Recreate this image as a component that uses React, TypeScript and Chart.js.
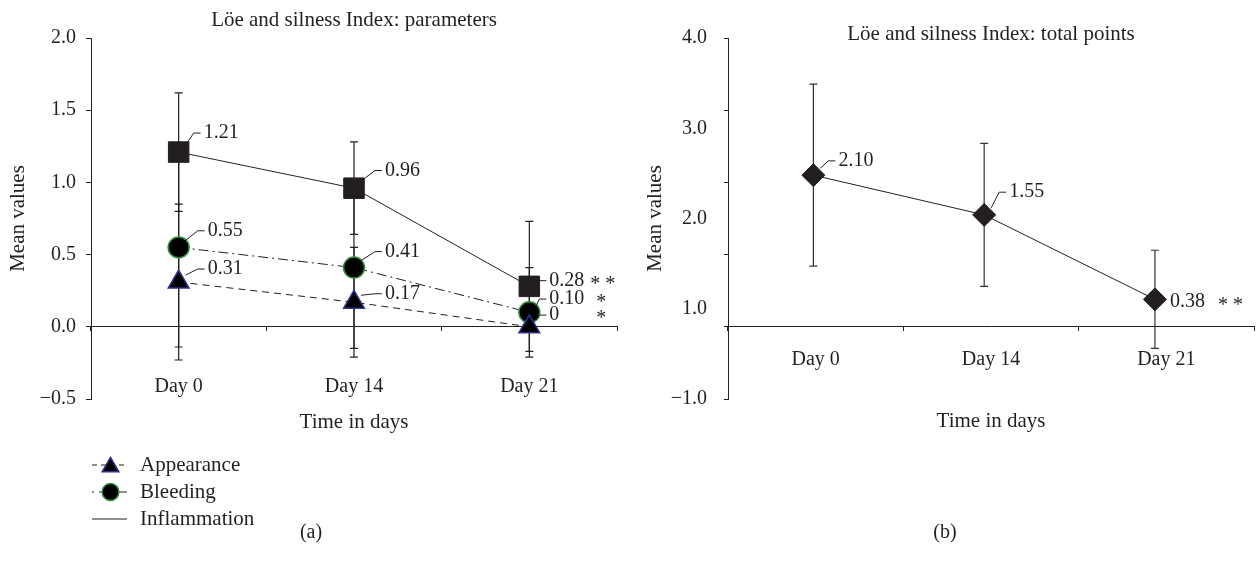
import React, { useEffect, useRef } from 'react';
import { Chart, registerables } from 'chart.js';

Chart.register(...registerables);

// ---------- data ----------
const days = ['Day 0', 'Day 14', 'Day 21'];

const appearance = [0.31, 0.17, 0];
const appearanceErr = [0.54, 0.38, 0];
const bleeding = [0.55, 0.41, 0.1];
const bleedingErr = [0.69, 0.56, 0.31];
const inflammation = [1.21, 0.96, 0.28];
const inflammationErr = [0.41, 0.32, 0.45];
const leftTicks = [-0.5, 0, 0.5, 1.0, 1.5, 2.0];
const day21Marks = ['*', '*', '* *']; // appearance, bleeding, inflammation

const totalPoints = [2.1, 1.55, 0.38];
const totalErr = [1.26, 0.99, 0.68];
const totalTickMarks = [-1, 0, 1, 2, 3, 4];
const totalTickValues = [-1, 0.25, 1.5, 2.75, 4];
const totalTickLabels = ['\u22121.0', '1.0', '2.0', '3.0', '4.0'];
const totalMark = '* *';

// ---------- style ----------
const FONT = "'Liberation Serif', 'Times New Roman', serif";
const INK = '#231f20';
const FS = 20;
const FT = 21;

const fmtVal = (v: number) => (v === 0 ? '0' : v.toFixed(2));
const fmtTick = (v: number) => (v < 0 ? '\u2212' : '') + Math.abs(v).toFixed(1);

function drawMarker(ctx: CanvasRenderingContext2D, style: string, x: number, y: number, r: number, fill: string, stroke: string, bw: number) {
  ctx.save();
  ctx.fillStyle = fill;
  ctx.strokeStyle = stroke;
  ctx.lineWidth = bw;
  ctx.setLineDash([]);
  ctx.beginPath();
  if (style === 'triangle') {
    ctx.moveTo(x, y - r);
    ctx.lineTo(x + r * Math.sin((2 * Math.PI) / 3), y + r / 2);
    ctx.lineTo(x - r * Math.sin((2 * Math.PI) / 3), y + r / 2);
    ctx.closePath();
  } else if (style === 'circle') {
    ctx.arc(x, y, r, 0, Math.PI * 2);
  } else {
    ctx.rect(x - r * 0.707, y - r * 0.707, r * 1.414, r * 1.414);
  }
  ctx.fill();
  if (bw > 0) ctx.stroke();
  ctx.restore();
}

const extrasPlugin = {
  id: 'extras',
  beforeDatasetsDraw(chart: any) {
    const ctx = chart.ctx;
    chart.data.datasets.forEach((ds: any, i: number) => {
      if (!ds.errors) return;
      const meta = chart.getDatasetMeta(i);
      const ys = chart.scales[meta.yAxisID];
      meta.data.forEach((pt: any, j: number) => {
        const raw = ds.data[j];
        const val = typeof raw === 'number' ? raw : raw.y;
        const e = ds.errors[j];
        if (!e) return;
        const top = ys.getPixelForValue(val + e);
        const bot = ys.getPixelForValue(val - e);
        ctx.save();
        ctx.strokeStyle = ds.errorColor || INK;
        ctx.lineWidth = 1.2;
        ctx.beginPath();
        ctx.moveTo(pt.x, top);
        ctx.lineTo(pt.x, bot);
        ctx.moveTo(pt.x - 4, top);
        ctx.lineTo(pt.x + 4, top);
        ctx.moveTo(pt.x - 4, bot);
        ctx.lineTo(pt.x + 4, bot);
        ctx.stroke();
        ctx.restore();
      });
    });
  },
  afterDatasetsDraw(chart: any) {
    const ctx = chart.ctx;
    chart.data.datasets.forEach((ds: any, i: number) => {
      const meta = chart.getDatasetMeta(i);
      meta.data.forEach((pt: any, j: number) => {
        const raw = ds.data[j];
        const val = typeof raw === 'number' ? raw : raw.y;
        const lp = ds.labelPos ? ds.labelPos[j] : null;
        if (!lp) return;
        const [dx, dy, lead] = lp;
        ctx.save();
        ctx.fillStyle = INK;
        ctx.strokeStyle = INK;
        ctx.lineWidth = 1;
        if (lead) {
          const sy = Math.max(dy, -7);
          ctx.beginPath();
          ctx.moveTo(pt.x + 7, pt.y + sy);
          ctx.lineTo(pt.x + dx - 10, pt.y + dy);
          ctx.lineTo(pt.x + dx - 3, pt.y + dy);
          ctx.stroke();
        }
        ctx.font = `${FS}px ${FONT}`;
        ctx.textAlign = 'left';
        ctx.textBaseline = 'middle';
        ctx.fillText(fmtVal(val), pt.x + dx, pt.y + dy);
        if (ds.marks && ds.marks[j]) {
          const [txt, mdx] = ds.marks[j];
          ctx.fillText(txt, pt.x + mdx, pt.y + dy + 4);
        }
        ctx.restore();
      });
    });
  },
  afterDraw(chart: any, _args: any, opts: any) {
    const ctx = chart.ctx;
    const ca = chart.chartArea;
    ctx.save();
    ctx.fillStyle = INK;
    ctx.textBaseline = 'middle';
    if (opts.title) {
      ctx.font = `${FT}px ${FONT}`;
      ctx.textAlign = 'center';
      ctx.fillText(opts.title.text, (ca.left + ca.right) / 2, opts.title.y);
    }
    if (opts.caption) {
      ctx.font = `${FS}px ${FONT}`;
      ctx.textAlign = 'center';
      ctx.fillText(opts.caption.text, opts.caption.x, opts.caption.y);
    }
    if (opts.legend) {
      const lg = opts.legend;
      ctx.font = `${FT}px ${FONT}`;
      chart.data.datasets.forEach((ds: any, i: number) => {
        const y = lg.y0 + i * lg.step;
        ctx.save();
        ctx.strokeStyle = ds.borderColor;
        ctx.lineWidth = 1;
        ctx.setLineDash(ds.legendDash || []);
        ctx.beginPath();
        ctx.moveTo(lg.x0, y);
        ctx.lineTo(lg.x1, y);
        ctx.stroke();
        ctx.restore();
        if (ds.legendMarker !== false) {
          drawMarker(ctx, ds.pointStyle, (lg.x0 + lg.x1) / 2 + 1, y + (ds.pointStyle === 'triangle' ? 2 : 0), ds.pointRadius * 0.8, ds.pointBackgroundColor, ds.pointBorderColor, ds.pointBorderWidth);
        }
        ctx.fillStyle = INK;
        ctx.textAlign = 'left';
        ctx.fillText(ds.label, lg.textX, y);
      });
    }
    ctx.restore();
  },
};

const tickFont = { family: FONT, size: FS };
const titleFont = { family: FONT, size: FT };

function leftConfig(): any {
  return {
    type: 'line',
    data: {
      labels: days,
      datasets: [
        {
          label: 'Appearance',
          data: appearance,
          errors: appearanceErr,
          borderColor: INK,
          borderWidth: 1,
          borderDash: [7, 5],
          legendDash: [5, 4],
          pointStyle: 'triangle',
          pointRadius: 12,
          pointBackgroundColor: '#000',
          pointBorderColor: '#2e3192',
          pointBorderWidth: 1.5,
          labelPos: [[29, -13, 1], [31, -8.5, 1], [20, -11.7, 1]],
          marks: [null, null, [day21Marks[0], 67]],
        },
        {
          label: 'Bleeding',
          data: bleeding,
          errors: bleedingErr,
          borderColor: INK,
          borderWidth: 1,
          borderDash: [10, 4, 2, 4],
          legendDash: [2, 5, 10, 3],
          pointStyle: 'circle',
          pointRadius: 10.5,
          pointBackgroundColor: '#000',
          pointBorderColor: '#2f8f3f',
          pointBorderWidth: 1.5,
          labelPos: [[29, -16.6, 1], [31, -16, 1], [20, -13.3, 1]],
          marks: [null, null, [day21Marks[1], 67]],
        },
        {
          label: 'Inflammation',
          data: inflammation,
          errors: inflammationErr,
          borderColor: INK,
          borderWidth: 1,
          pointStyle: 'rect',
          pointRadius: 14.5,
          pointBackgroundColor: INK,
          pointBorderColor: INK,
          pointBorderWidth: 1,
          legendMarker: false,
          labelPos: [[25, -19, 1], [31, -17.7, 1], [20, -5.7, 1]],
          marks: [null, null, [day21Marks[2], 61]],
        },
      ],
    },
    options: {
      animation: false,
      responsive: false,
      events: [],
      layout: { autoPadding: false, padding: { left: 0, right: 11, top: 38, bottom: 168 } },
      plugins: {
        legend: { display: false },
        tooltip: { enabled: false },
        extras: {
          title: { text: 'L\u00f6e and silness Index: parameters', y: 20 },
          caption: { text: '(a)', x: 311, y: 533 },
          legend: { x0: 92, x1: 127, y0: 465, step: 27, textX: 140 },
        },
      },
      scales: {
        y: {
          position: 'left',
          min: -0.5,
          max: 2.0,
          afterBuildTicks: (s: any) => {
            s.ticks = leftTicks.map((v) => ({ value: v }));
          },
          afterFit: (s: any) => {
            s.width = 91;
          },
          ticks: { color: INK, font: tickFont, padding: 10, callback: (v: any) => fmtTick(Number(v)) },
          grid: { display: true, drawOnChartArea: false, drawTicks: true, tickLength: 5, color: INK },
          border: { display: true, color: INK, width: 1 },
          title: { display: true, text: 'Mean values', color: INK, font: titleFont, padding: { top: 6, bottom: 0 } },
        },
        x: {
          type: 'category',
          position: { y: 0 },
          offset: true,
          afterFit: (s: any) => {
            s.height = 108;
            s.paddingLeft = 0;
            s.paddingRight = 0;
          },
          ticks: { color: INK, font: tickFont, padding: 44, maxRotation: 0 },
          grid: { display: true, drawOnChartArea: false, offset: true, drawTicks: true, tickLength: 4, color: INK },
          border: { display: true, color: INK, width: 1 },
          title: { display: true, text: 'Time in days', color: INK, font: titleFont, padding: { top: 0, bottom: 0 } },
        },
      },
    },
    plugins: [extrasPlugin],
  };
}

function rightConfig(): any {
  return {
    type: 'line',
    data: {
      labels: days,
      datasets: [
        {
          label: 'Total points',
          xAxisID: 'xp',
          yAxisID: 'y',
          data: totalPoints.map((v, i) => ({ x: i, y: v })),
          errors: totalErr,
          errorColor: '#333',
          borderColor: INK,
          borderWidth: 1,
          pointStyle: 'rectRot',
          pointRadius: 11.5,
          pointBackgroundColor: INK,
          pointBorderColor: INK,
          pointBorderWidth: 1,
          labelPos: [[25, -14.3, 1], [25, -22.7, 1], [15, 2, 0]],
          marks: [null, null, [totalMark, 63]],
        },
      ],
    },
    options: {
      animation: false,
      responsive: false,
      events: [],
      layout: { autoPadding: false, padding: { left: 0, right: 2, top: 38, bottom: 168 } },
      plugins: {
        legend: { display: false },
        tooltip: { enabled: false },
        extras: {
          title: { text: 'L\u00f6e and silness Index: total points', y: 34 },
          caption: { text: '(b)', x: 317, y: 533 },
        },
      },
      scales: {
        y: {
          position: 'left',
          weight: 0,
          min: -1,
          max: 4,
          afterBuildTicks: (s: any) => {
            s.ticks = totalTickMarks.map((v) => ({ value: v }));
          },
          afterFit: (s: any) => {
            s.width = 4;
          },
          ticks: { display: false },
          grid: { display: true, drawOnChartArea: false, drawTicks: true, tickLength: 4, color: INK },
          border: { display: true, color: INK, width: 1 },
        },
        yLab: {
          position: 'left',
          weight: 1,
          min: -1,
          max: 4,
          afterBuildTicks: (s: any) => {
            s.ticks = totalTickValues.map((v) => ({ value: v }));
          },
          afterFit: (s: any) => {
            s.width = 96;
          },
          ticks: { color: INK, font: tickFont, padding: 9, callback: (_v: any, i: number) => totalTickLabels[i] },
          grid: { display: false },
          border: { display: false },
          title: { display: true, text: 'Mean values', color: INK, font: titleFont, padding: { top: 15, bottom: 0 } },
        },
        x: {
          type: 'category',
          position: { y: 0 },
          offset: true,
          afterFit: (s: any) => {
            s.height = 107;
            s.paddingLeft = 0;
            s.paddingRight = 0;
          },
          ticks: { color: INK, font: tickFont, padding: 17, maxRotation: 0 },
          grid: { display: true, drawOnChartArea: false, offset: true, drawTicks: true, tickLength: 4, color: INK },
          border: { display: true, color: INK, width: 1 },
          title: { display: true, text: 'Time in days', color: INK, font: titleFont, padding: { top: 0, bottom: 0 } },
        },
        xp: {
          type: 'linear',
          display: false,
          min: -0.5,
          max: 2.58,
        },
      },
    },
    plugins: [extrasPlugin],
  };
}

export default function App() {
  const leftRef = useRef<HTMLCanvasElement>(null);
  const rightRef = useRef<HTMLCanvasElement>(null);

  useEffect(() => {
    Chart.defaults.font.family = FONT;
    const c1 = new Chart(leftRef.current as HTMLCanvasElement, leftConfig());
    const c2 = new Chart(rightRef.current as HTMLCanvasElement, rightConfig());
    return () => {
      c1.destroy();
      c2.destroy();
    };
  }, []);

  return (
    <div style={{ position: 'absolute', left: 0, top: 0, width: 1256, height: 567, background: '#fff' }}>
      <canvas ref={leftRef} width={628} height={567} style={{ position: 'absolute', left: 0, top: 0, width: 628, height: 567 }} />
      <canvas ref={rightRef} width={628} height={567} style={{ position: 'absolute', left: 628, top: 0, width: 628, height: 567 }} />
    </div>
  );
}
